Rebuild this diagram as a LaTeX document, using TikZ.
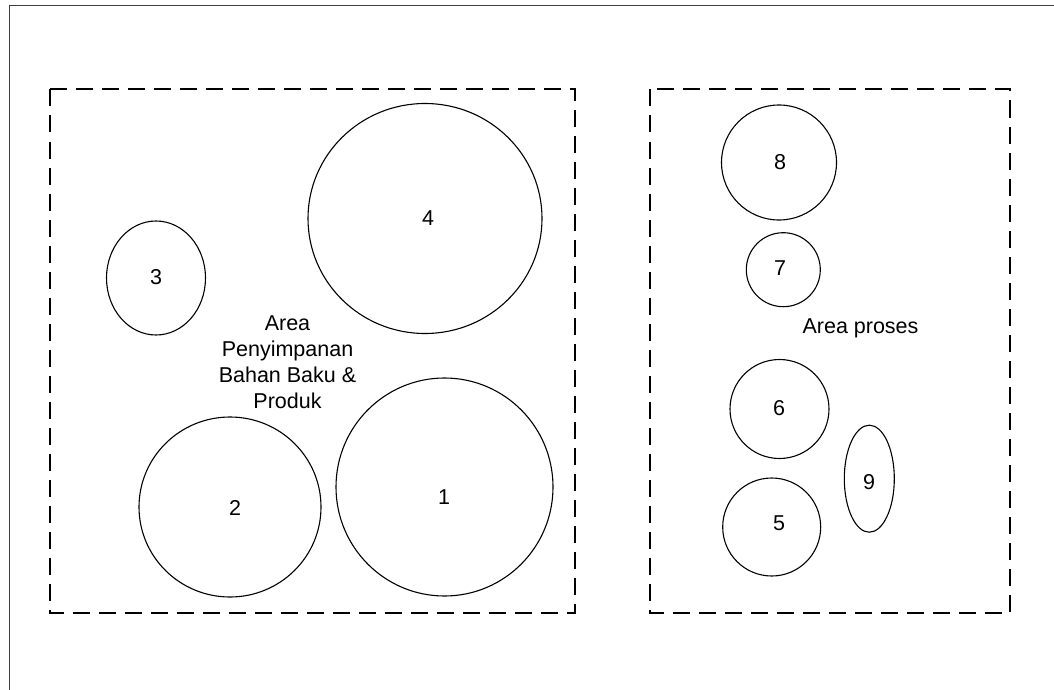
\documentclass[tikz,border=0pt]{standalone}
\usepackage{fontspec}
\setmainfont{Liberation Sans}
\usetikzlibrary{shapes.geometric}
\tikzset{
  frameline/.style={draw=black!75, line width=1.3pt},
  zone/.style={draw=black, line width=2pt, dash pattern=on 17pt off 9pt},
  tank/.style={ellipse, draw=black, line width=1.1pt, inner sep=0pt, fill=none},
  num/.style={inner sep=0pt, font=\fontsize{21.5}{25}\selectfont},
  zonetext/.style={inner sep=0pt, align=center, font=\fontsize{21.5}{25.7}\selectfont}
}
\begin{document}
\begin{tikzpicture}[x=1pt, y=-1pt]
\useasboundingbox (0,0) rectangle (1054,690);
\fill[white] (0,0) rectangle (1054,690);

% outer frame (left and top edges)
\coordinate (fb) at (9.5,690);
\coordinate (fc) at (9.5,5.5);
\coordinate (fr) at (1054,5.5);
\draw[frameline] (fb) -- (fc) -- (fr);

% storage zone and process zone
\coordinate (s1) at (49.5,89.5);
\coordinate (s2) at (575,612.5);
\draw[zone] (s1) rectangle (s2);
\coordinate (p1) at (650,89.5);
\coordinate (p2) at (1010,612.5);
\draw[zone] (p1) rectangle (p2);

% storage tanks
\node[tank, minimum width=234pt, minimum height=230pt] (t4) at (425,218.5) {};
\node[tank, minimum width=99pt, minimum height=114pt] (t3) at (156,278) {};
\node[tank, minimum width=182pt, minimum height=180pt] (t2) at (230,507) {};
\node[tank, minimum width=217pt, minimum height=218pt] (t1) at (444.5,487) {};

% process vessels
\node[tank, minimum width=115pt, minimum height=115pt] (t8) at (779,162.5) {};
\node[tank, minimum width=74pt, minimum height=74pt] (t7) at (783.3,269.7) {};
\node[tank, minimum width=99pt, minimum height=99pt] (t6) at (779.5,409) {};
\node[tank, minimum width=98pt, minimum height=98pt] (t5) at (771.7,527) {};
\node[tank, minimum width=50pt, minimum height=107pt] (t9) at (869.3,478.7) {};

% numbers
\node[num] (n4) at (428,218) {4};
\node[num] (n3) at (156,277) {3};
\node[num] (n2) at (235,508) {2};
\node[num] (n1) at (444,497) {1};
\node[num] (n8) at (780,162) {8};
\node[num] (n7) at (780,268) {7};
\node[num] (n6) at (779,408) {6};
\node[num] (n5) at (779,523) {5};
\node[num] (n9) at (869,482) {9};

% zone names
\node[zonetext, anchor=north] (ls) at (287.5,316) {Area\\Penyimpanan\\Bahan Baku \&\\Produk};
\node[num, anchor=base] (lp) at (860.5,333) {Area proses};
\end{tikzpicture}
\end{document}
